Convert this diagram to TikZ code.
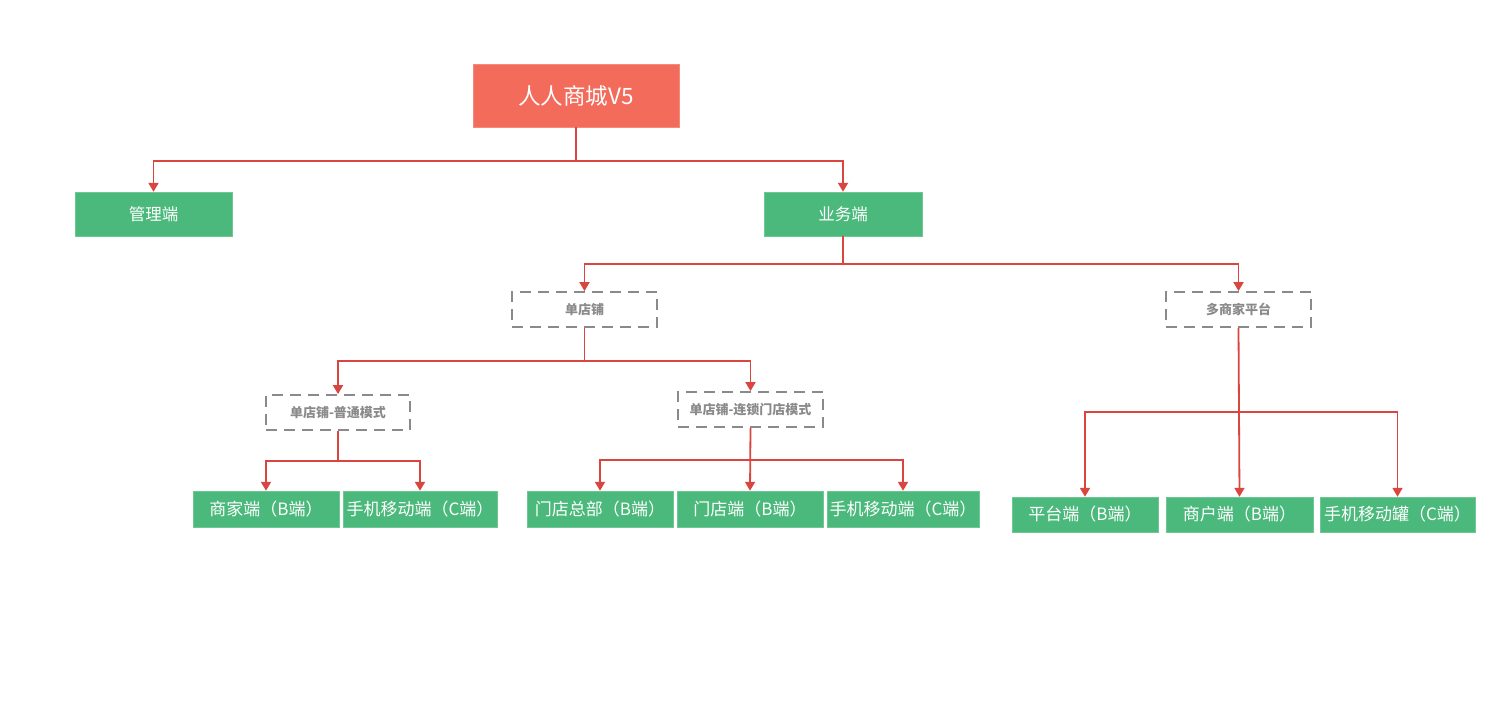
\documentclass[tikz,border=0pt]{standalone}
\usepackage{fontspec}
\setmainfont{Noto Sans CJK SC}
\usepackage{xcolor}
\usetikzlibrary{arrows.meta}
\definecolor{rootred}{HTML}{F26B5B}
\definecolor{leafgreen}{HTML}{4AB97B}
\definecolor{linkred}{HTML}{D9463F}
\definecolor{dashgray}{HTML}{8A8A8A}
\tikzset{
  rootbox/.style={fill=rootred, draw=rootred!80!white, text=white, inner sep=0pt,
    minimum width=206pt, minimum height=63pt, font=\fontsize{22.5}{26}\selectfont},
  mainbox/.style={fill=leafgreen, draw=leafgreen!80!white, text=white, inner sep=0pt,
    minimum height=44pt, font=\fontsize{16.5}{20}\selectfont},
  groupbox/.style={draw=dashgray, line width=1.8pt, dash pattern=on 11pt off 7pt,
    text=dashgray, inner sep=0pt, minimum width=145pt, minimum height=35pt,
    font=\fontsize{13}{16}\selectfont\bfseries},
  leafbox/.style={fill=leafgreen, draw=leafgreen!80!white, text=white, inner sep=0pt,
    minimum height=36pt, font=\fontsize{17}{20}\selectfont},
  link/.style={draw=linkred, line width=1.8pt, -{Triangle[width=10pt,length=9pt]}}
}
\begin{document}
\begin{tikzpicture}[x=1pt,y=-1pt]
\useasboundingbox (0,0) rectangle (1499,701);
\node (root) at (576,95.5) [rootbox] {人人商城V5};
\node (admin) at (153.5,214) [mainbox, minimum width=157pt] {管理端};
\node (biz) at (843,214) [mainbox, minimum width=158pt] {业务端};
\node (single) at (584.5,309.5) [groupbox] {单店铺};
\node (multi) at (1238.5,309.5) [groupbox] {多商家平台};
\node (normal) at (338,412.5) [groupbox, minimum width=144pt] {单店铺-普通模式};
\node (chain) at (750.5,409.5) [groupbox] {单店铺-连锁门店模式};
\node (merchant) at (266,509) [leafbox, minimum width=146pt] {商家端（B端）};
\node (mobilea) at (420,509) [leafbox, minimum width=154pt] {手机移动端（C端）};
\node (hq) at (600,509) [leafbox, minimum width=146pt] {门店总部（B端）};
\node (store) at (750,509) [leafbox, minimum width=146pt] {门店端（B端）};
\node (mobileb) at (903,509) [leafbox, minimum width=152pt] {手机移动端（C端）};
\node (platform) at (1085,514.5) [leafbox, minimum width=146pt, minimum height=35pt] {平台端（B端）};
\node (shop) at (1239.5,514.5) [leafbox, minimum width=147pt, minimum height=35pt] {商户端（B端）};
\node (mobilec) at (1397.5,514.5) [leafbox, minimum width=155pt, minimum height=35pt] {手机移动罐（C端）};
\draw[link] (root.south) -- ++(0,34) -| (admin.north);
\draw[link] (root.south) -- ++(0,34) -| (biz.north);
\draw[link] (biz.south) -- ++(0,28) -| (single.north);
\draw[link] (biz.south) -- ++(0,28) -| (multi.north);
\draw[link] (single.south) -- ++(0,33) -| (normal.north);
\draw[link] (single.south) -- ++(0,33) -| (chain.north);
\draw[link] (normal.south) -- ++(0,30) -| (merchant.north);
\draw[link] (normal.south) -- ++(0,30) -| (mobilea.north);
\draw[link] (chain.south) -- ++(0,32) -| (hq.north);
\draw[link] (chain.south) -- (store.north);
\draw[link] (chain.south) -- ++(0,32) -| (mobileb.north);
\draw[link] (multi.south) -- ++(0,84) -| (platform.north);
\draw[link] (multi.south) -- (shop.north);
\draw[link] (multi.south) -- ++(0,84) -| (mobilec.north);
\end{tikzpicture}
\end{document}
